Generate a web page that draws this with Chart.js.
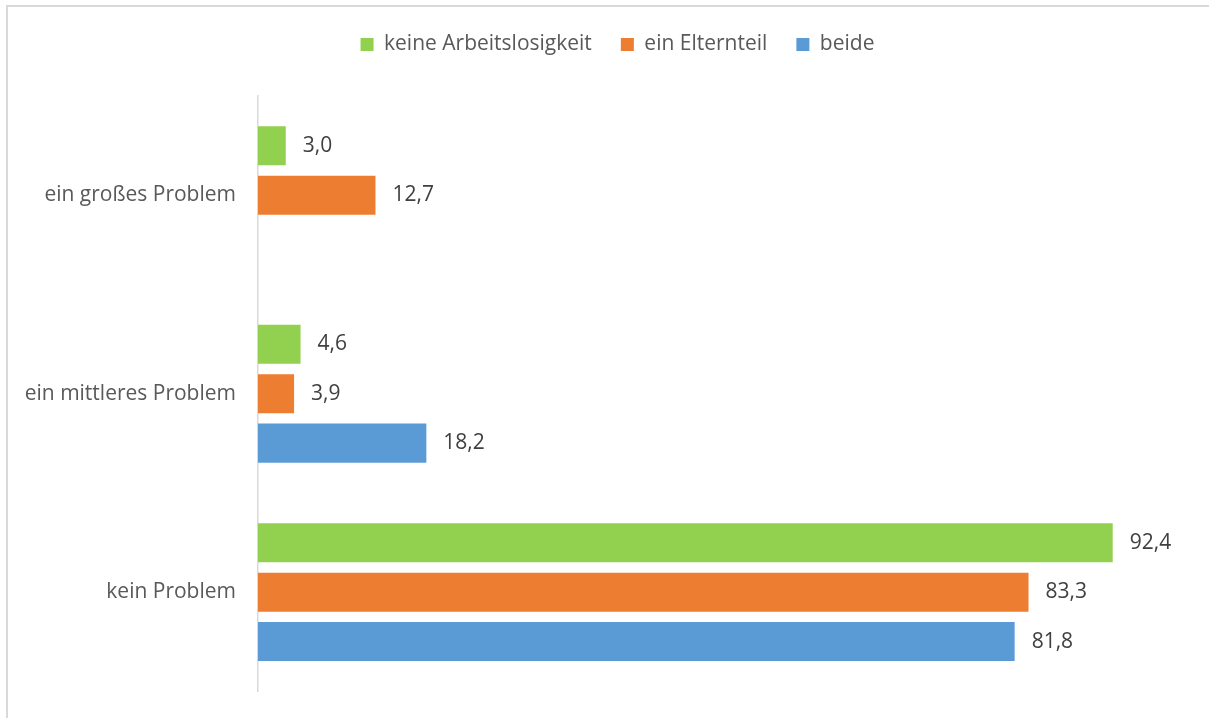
<!DOCTYPE html>
<html>
<head>
<meta charset="utf-8">
<script src="https://cdn.jsdelivr.net/npm/chart.js@4.4.0/dist/chart.umd.min.js"></script>
<style>
  html, body { margin: 0; padding: 0; background: #fff; overflow: hidden; }
  #frame {
    position: absolute; left: 6px; top: 5px;
    width: 1300px; height: 800px;
    border: 2px solid #d9d9d9;
  }
  #wrap { position: absolute; left: 0; top: 0; width: 1209px; height: 718px; }
</style>
</head>
<body>
<div id="frame"></div>
<div id="wrap"><canvas id="barChart"></canvas></div>
<script>
const categories = ['ein großes Problem', 'ein mittleres Problem', 'kein Problem'];
const seriesNames = ['keine Arbeitslosigkeit', 'ein Elternteil', 'beide'];
const keineArbeitslosigkeit = [3.0, 4.6, 92.4];
const einElternteil = [12.7, 3.9, 83.3];
const beide = [null, 18.2, 81.8];
const colors = ['#92d050', '#ed7d31', '#5b9bd5'];

const FONT = '"Open Sans", "Liberation Sans", sans-serif';

// Werte rechts neben den Balken (Dezimalkomma)
const valueLabels = {
  id: 'valueLabels',
  afterDatasetsDraw(chart) {
    const ctx = chart.ctx;
    ctx.save();
    ctx.font = '21px ' + FONT;
    ctx.fillStyle = '#404040';
    ctx.textAlign = 'left';
    ctx.textBaseline = 'middle';
    chart.data.datasets.forEach((ds, i) => {
      const meta = chart.getDatasetMeta(i);
      meta.data.forEach((bar, j) => {
        const v = ds.data[j];
        if (v === null || v === undefined) return;
        ctx.fillText(v.toFixed(1).replace('.', ','), bar.x + 17, bar.y);
      });
    });
    ctx.restore();
  }
};

// Legende etwas nach rechts schieben (Mitte der ganzen Grafik)
const legendShift = {
  id: 'legendShift',
  afterLayout(chart) {
    if (chart.legend) {
      chart.legend.left += 26;
      chart.legend.right += 26;
    }
  }
};

const allSeries = [keineArbeitslosigkeit, einElternteil, beide];

const ctx = document.getElementById('barChart').getContext('2d');
const chart = new Chart(ctx, {
  type: 'bar',
  data: {
    labels: categories,
    datasets: allSeries.map((d, i) => ({
      label: seriesNames[i],
      data: d,
      backgroundColor: colors[i],
      categoryPercentage: 0.747,
      barPercentage: 0.79,
    })),
  },
  options: {
    indexAxis: 'y',
    responsive: true,
    maintainAspectRatio: false,
    animation: false,
    layout: { padding: { top: 5, right: 26, bottom: 17, left: 0 } },
    scales: {
      x: {
        position: 'top',
        min: 0,
        max: 100,
        ticks: { display: false },
        grid: { display: false },
        border: { display: false },
        afterFit: (scale) => { scale.height = 31; },
      },
      y: {
        grid: { display: false },
        border: { color: '#d9d9d9', width: 1.5 },
        ticks: { color: '#595959', font: { size: 21, family: FONT }, padding: 14 },
        afterFit: (scale) => { scale.width = 258; },
      },
    },
    plugins: {
      legend: {
        position: 'top',
        labels: {
          boxWidth: 13,
          boxHeight: 13,
          padding: 29,
          color: '#595959',
          font: { size: 21, family: FONT },
        },
      },
      tooltip: { enabled: false },
    },
  },
  plugins: [valueLabels, legendShift],
});
</script>
</body>
</html>
